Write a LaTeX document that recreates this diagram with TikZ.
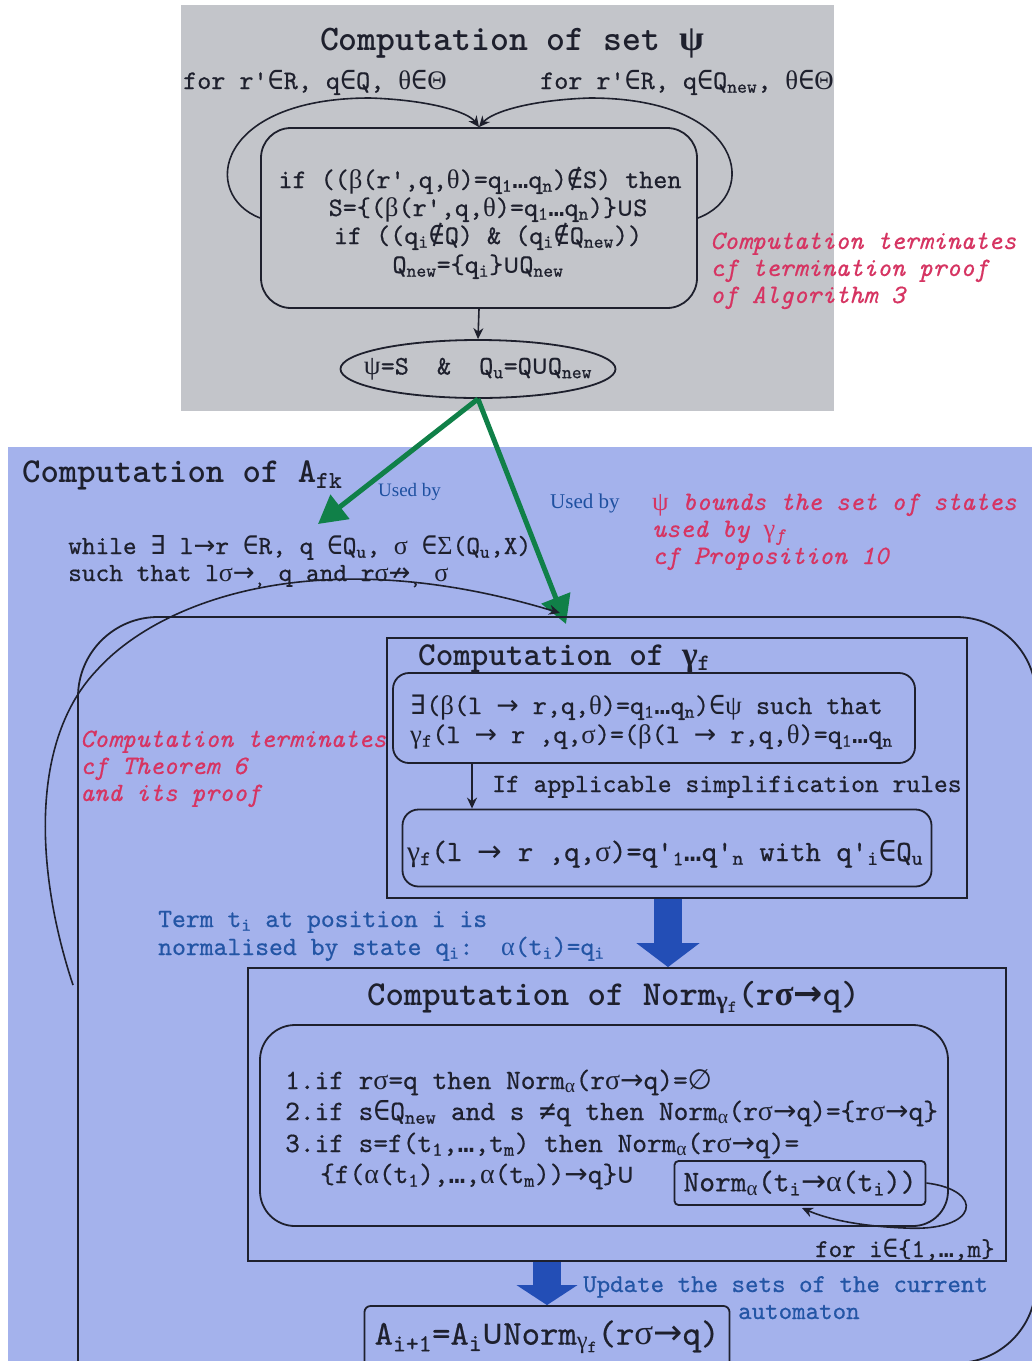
\documentclass[tikz,border=0pt]{standalone}
\usepackage{fontspec}
\setmainfont{lmmono10-regular.otf}[BoldFont=lmmonolt10-bold.otf, ItalicFont=lmmono10-italic.otf]
\newfontfamily\bodyf{lmmono10-regular.otf}[FakeBold=0.6]
\newfontfamily\redf{lmmono10-italic.otf}[FakeBold=0.5]
\newfontfamily\serf{Liberation Serif}
\newfontfamily\grkf{Liberation Serif}
\newfontfamily\symf{DejaVu Sans Mono}
\newfontfamily\symp{DejaVu Sans}
\usetikzlibrary{arrows.meta,shapes.geometric}
\newcommand\ys[1]{{\symf #1}}
\newcommand\gr[1]{{\grkf #1}}
\newcommand\sub[1]{\textsubscript{#1}}
\newcommand\ap{\textquotesingle}
\newcommand\mIn{\ys{∈}}
\newcommand\mNin{\ys{∉}}
\newcommand\mCup{\ys{∪}}
\newcommand\mEx{\ys{∃}}
\newcommand\mEmpty{{\symp ∅}}
\newcommand\mNto{{\symp ↛}}
\newcommand\mNe{\ys{≠}}
\newcommand\mDots{\ys{…}}
\newcommand\mTo{{\symp →}}
\newcommand\gps{\gr{ψ}}
\newcommand\gth{\gr{θ}}
\newcommand\gTh{\gr{Θ}}
\newcommand\gbe{\gr{β}}
\newcommand\gsi{\gr{σ}}
\newcommand\gSi{\gr{Σ}}
\newcommand\gal{\gr{α}}
\newcommand\gga{\gr{γ}}
\definecolor{graybg}{RGB}{195,197,202}
\definecolor{bluebg}{RGB}{164,178,236}
\definecolor{ink}{RGB}{30,32,45}
\definecolor{redc}{RGB}{214,52,98}
\definecolor{bluec}{RGB}{35,85,165}
\definecolor{usedc}{RGB}{30,80,160}
\definecolor{greenc}{RGB}{16,128,72}
\definecolor{arrowc}{RGB}{35,78,182}
\tikzset{
 txt/.style={anchor=base west, inner sep=0pt, text=ink, font=\bodyf\fontsize{26.8}{32}\selectfont},
 ctxt/.style={txt, anchor=base},
 ttl/.style={anchor=base west, inner sep=0pt, text=ink, font=\fontsize{35}{40}\selectfont\bfseries},
 redt/.style={txt, text=redc, font=\redf\fontsize{26.5}{31}\selectfont},
 bluet/.style={txt, text=bluec, font=\bodyf\fontsize{26.4}{31}\selectfont},
 usedby/.style={anchor=base west, inner sep=0pt, text=usedc, font=\serf\fontsize{21}{25}\selectfont},
 line/.style={draw=ink, line width=1.8pt},
 rbox/.style={draw=ink, line width=1.8pt, inner sep=0pt},
 arr/.style={draw=ink, line width=1.6pt, -{Stealth[length=11pt,width=10pt]}},
 garr/.style={draw=greenc, line width=5pt, -{Triangle[length=28pt,width=30pt]}},
 barr/.style={draw=arrowc, line width=28pt, -{Triangle[length=24pt,width=62pt]}},
}
\begin{document}
\begin{tikzpicture}[x=1pt,y=-1pt]
\useasboundingbox (0,0) rectangle (1032,1361);
\fill[white] (0,0) rectangle (1032,1361);
\fill[graybg] (181,5) rectangle (834,411);
\fill[bluebg] (8,447) rectangle (1032,1361);

% ---------- computation of psi ----------
\node[ttl, anchor=base, font=\fontsize{36}{40}\selectfont\bfseries] (tPsi) at (512,50) {Computation of set \gps};
\node[txt] (for1) at (183,89) {for r\ap\mIn R, q\mIn Q, \gth\mIn\gTh};
\node[txt] (for2) at (540,89) {for r\ap\mIn R, q\mIn Q\sub{new}, \gth\mIn\gTh};
\node[rbox, rounded corners=30pt, minimum width=436pt, minimum height=180pt] (psiBox) at (479,218) {};
\node[ctxt] (l1) at (480,188) {if ((\gbe(r\ap,q,\gth)=q\sub{1}\mDots q\sub{n})\mNin S) then};
\node[ctxt] (l2) at (488,216) {S=\{(\gbe(r\ap,q,\gth)=q\sub{1}\mDots q\sub{n})\}\mCup S};
\node[ctxt] (l3) at (488,244) {if ((q\sub{i}\mNin Q) \& (q\sub{i}\mNin Q\sub{new}))};
\node[ctxt] (l4) at (478,273) {Q\sub{new}=\{q\sub{i}\}\mCup Q\sub{new}};
\node[ellipse, draw=ink, line width=1.8pt, inner xsep=-25pt, inner ysep=0pt, minimum width=275pt, minimum height=58pt,
      font=\bodyf\fontsize{26.8}{32}\selectfont, text=ink] (psiRes) at (478,369) {\gps=S\ \ \&\ \ Q\sub{u}=Q\mCup Q\sub{new}};
\draw[arr] (psiBox.west) .. controls (200,195) and (215,98) .. (370,98) .. controls (430,100) and (468,112) .. (psiBox.north);
\draw[arr] (psiBox.east) .. controls (760,195) and (745,98) .. (590,98) .. controls (530,100) and (492,112) .. (psiBox.north);
\draw[arr] (psiBox.south) -- (psiRes.north);
\node[redt] (rt1) at (710,249) {Computation terminates};
\node[redt] (rt2) at (710,276) {cf termination proof};
\node[redt] (rt3) at (710,303) {of Algorithm 3};

% ---------- computation of A_fk ----------
\node[ttl] (tA) at (22,482) {Computation of A\sub{fk}};
\node[txt, font=\bodyf\fontsize{26.1}{31}\selectfont] (w1) at (68,554) {while \mEx\ l\mTo r \mIn R, q \mIn Q\sub{u}, \gsi\ \mIn\gSi(Q\sub{u},X)};
\node[txt, font=\bodyf\fontsize{26.1}{31}\selectfont] (w2) at (68,581) {such that l\gsi\mTo\sub{,} q and r\gsi\mNto\sub{,} \gsi};
\node[usedby, font=\serf\fontsize{19}{23}\selectfont] (ub1) at (378,496) {Used by};
\node[usedby] (ub2) at (550,508) {Used by};
\node[redt] (pr1) at (652,510) {\gps\ bounds the set of states};
\node[redt] (pr2) at (652,537) {used by \gga\sub{f}};
\node[redt] (pr3) at (652,564) {cf Proposition 10};
\coordinate (gEnd1) at (318,524);
\coordinate (gEnd2) at (566,624);
\draw[garr] (psiRes.south) -- (gEnd1);
\draw[garr] (psiRes.south) -- (gEnd2);

% big loop body
\begin{scope}
\clip (0,0) rectangle (1032,1361);
\draw[line, rounded corners=80pt] (78,1420) -- (78,617) -- (1036,617) -- (1036,1363) -- (700,1363);
\end{scope}
\coordinate (bigLoopS) at (73,985);
\coordinate (bigLoopE) at (560,613);
\draw[arr] (bigLoopS) .. controls (35,870) and (30,740) .. (97,670) .. controls (160,600) and (320,540) .. (bigLoopE);

% ---------- computation of gamma_f ----------
\node[rbox, minimum width=580pt, minimum height=260pt] (gBox) at (677,768) {};
\node[ttl, font=\fontsize{33.5}{38}\selectfont\bfseries] (tG) at (418,665) {Computation of \gga\sub{f}};
\node[rbox, rounded corners=16pt, minimum width=522pt, minimum height=90pt] (b1) at (654,718) {};
\node[txt] (b1a) at (410,714) {\mEx(\gbe(l \mTo\ r,q,\gth)=q\sub{1}\mDots q\sub{n})\mIn\gps\ such that};
\node[txt] (b1b) at (410,743) {\gga\sub{f}(l \mTo\ r ,q,\gsi)=(\gbe(l \mTo\ r,q,\gth)=q\sub{1}\mDots q\sub{n}};
\node[rbox, rounded corners=16pt, minimum width=529pt, minimum height=77pt] (b2) at (667,848) {};
\node[txt, font=\bodyf\fontsize{29.4}{35}\selectfont] (b2a) at (407,861) {\gga\sub{f}(l \mTo\ r ,q,\gsi)=q\ap\sub{1}\mDots q\ap\sub{n} with q\ap\sub{i}\mIn Q\sub{u}};
\coordinate (simpX) at (472,0);
\draw[arr] (b1.south -| simpX) -- (b2.north -| simpX);
\node[txt, font=\bodyf\fontsize{26.3}{31}\selectfont] (simp) at (492,792) {If applicable simplification rules};
\node[redt] (th1) at (80,747) {Computation terminates};
\node[redt] (th2) at (80,774) {cf Theorem 6};
\node[redt] (th3) at (80,801) {and its proof};

\node[bluet] (tm1) at (158,927) {Term t\sub{i} at position i is};
\node[bluet] (tm2) at (158,955) {normalised by state q\sub{i}:\ \ \gal(t\sub{i})=q\sub{i}};

% ---------- computation of Norm ----------
\node[rbox, minimum width=758pt, minimum height=293pt] (normBox) at (627,1114.5) {};
\coordinate (ta1) at (668,0);
\draw[barr] (gBox.south -| ta1) -- (normBox.north -| ta1);
\node[ttl] (tN) at (367,1005) {Computation of Norm\sub{\gga\sub{f}}(r\gsi\mTo q)};
\node[rbox, rounded corners=35pt, minimum width=688pt, minimum height=201pt] (nIn) at (604,1125.5) {};
\node[txt, font=\bodyf\fontsize{28}{33}\selectfont] (n1) at (285,1089) {1.if r\gsi=q then Norm\sub{\gal}(r\gsi\mTo q)=\mEmpty};
\node[txt, font=\bodyf\fontsize{28}{33}\selectfont] (n2) at (285,1120) {2.if s\mIn Q\sub{new} and s\ \mNe q then Norm\sub{\gal}(r\gsi\mTo q)=\{r\gsi\mTo q\}};
\node[txt, font=\bodyf\fontsize{28}{33}\selectfont] (n3) at (285,1152) {3.if s=f(t\sub{1},\mDots,t\sub{m}) then Norm\sub{\gal}(r\gsi\mTo q)=};
\node[txt, font=\bodyf\fontsize{28}{33}\selectfont] (n4) at (320,1183) {\{f(\gal(t\sub{1}),\mDots,\gal(t\sub{m}))\mTo q\}\mCup};
\node[rbox, rounded corners=4pt, minimum width=251pt, minimum height=44pt,
      font=\bodyf\fontsize{30}{35}\selectfont, text=ink] (sb) at (800,1183) {Norm\sub{\gal}(t\sub{i}\mTo\gal(t\sub{i}))};
\coordinate (sbIn) at (802,1208);
\draw[arr] (sb.east) .. controls (985,1190) and (980,1232) .. (905,1228) .. controls (855,1226) and (825,1218) .. (sbIn);
\node[txt, font=\bodyf\fontsize{25.7}{30}\selectfont] (fi) at (815,1257) {for i\mIn\{1,\mDots,m\}};

% ---------- update ----------
\node[rbox, rounded corners=6pt, minimum width=365pt, minimum height=62pt,
      font=\bodyf\fontsize{35}{40}\selectfont, text=ink] (aBox) at (547,1337) {A\sub{i+1}=A\sub{i}\mCup Norm\sub{\gga\sub{f}}(r\gsi\mTo q)};
\draw[barr, -{Triangle[length=20pt,width=60pt]}] (aBox.north |- normBox.south) -- (aBox.north);
\node[bluet, font=\bodyf\fontsize{25.7}{30}\selectfont] (up1) at (583,1292) {Update the sets of the current};
\node[bluet, font=\bodyf\fontsize{25.7}{30}\selectfont] (up2) at (738,1319) {automaton};
\end{tikzpicture}
\end{document}
